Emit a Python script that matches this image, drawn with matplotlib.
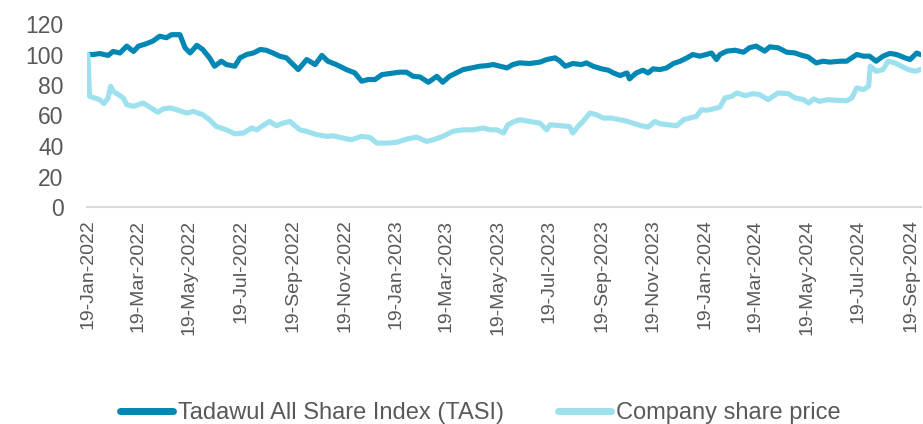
"""TASI vs company share price, rebased to 100 on 19-Jan-2022."""

import matplotlib

matplotlib.use("Agg")
import matplotlib.dates as mdates
import matplotlib.pyplot as plt
import pandas as pd

START = pd.Timestamp("2022-01-19")

# calendar days after 19-Jan-2022, and rebased value
tasi_days = [
    0, 6, 14, 24, 30, 38, 46, 54, 60, 69, 77, 85, 93, 99, 109, 115, 121, 129, 136, 144,
    150, 158, 164, 174, 180, 188, 196, 204, 211, 219, 227, 235, 243, 249, 259, 269, 277, 284, 294, 306,
    316, 324, 332, 340, 348, 357, 369, 377, 385, 393, 403, 413, 420, 428, 436, 444, 454, 464, 472, 480,
    488, 496, 503, 511, 523, 535, 543, 553, 559, 565, 574, 584, 590, 598, 608, 616, 622, 630, 638, 641,
    649, 657, 663, 669, 677, 685, 693, 701, 709, 716, 724, 732, 738, 744, 748, 756, 766, 776, 783, 791,
    801, 807, 817, 827, 837, 845, 852, 862, 870, 878, 890, 898, 910, 918, 925, 933, 941, 949, 957, 967,
    973, 981, 985,
]
tasi_values = [
    100, 100, 100.6, 99.4, 102, 101, 105.5, 102, 105.5, 107, 108.8, 112, 111, 113, 113, 104.4, 101, 106, 103.3, 97.8,
    92.3, 95.6, 93.4, 92.3, 97.8, 100, 101, 103.3, 102.8, 101, 98.9, 97.8, 93.4, 90.1, 96.7, 93.4, 99.4, 95.6, 93.4, 90.1,
    87.9, 82.5, 83.6, 83.6, 86.8, 87.5, 88.4, 88.4, 85.7, 85.3, 81.8, 85.7, 81.8, 85.7, 87.9, 90.1, 91.2, 92.3, 92.7, 93.4,
    92.3, 91.2, 93.4, 94.5, 94.1, 95, 96.7, 97.8, 95.6, 92.3, 94.1, 93.4, 94.5, 92.3, 90.6, 89.7, 87.9, 86.2, 87.9, 84,
    87.9, 89.7, 87.9, 90.6, 90.1, 91.2, 94.1, 95.6, 97.8, 100, 98.9, 100, 101, 96.7, 100, 102.2, 102.8, 101.5, 104.4, 105.5,
    102.2, 105, 104.4, 101.5, 101, 99.4, 98.5, 94.5, 95.6, 95, 95.6, 95.6, 100, 98.9, 98.9, 95.6, 98.9, 100.7, 100, 97.8,
    96.7, 101, 100,
]

company_days = [
    0, 2, 8, 14, 19, 24, 27, 30, 36, 42, 46, 54, 65, 73, 83, 89, 97, 105, 117, 125,
    136, 144, 152, 164, 174, 184, 194, 200, 207, 215, 223, 231, 239, 251, 259, 271, 283, 290, 302, 312,
    324, 334, 342, 354, 365, 377, 389, 401, 409, 420, 432, 444, 456, 468, 476, 484, 492, 497, 505, 511,
    523, 535, 543, 547, 559, 570, 574, 580, 586, 594, 602, 610, 620, 630, 639, 647, 655, 663, 671, 677,
    687, 697, 705, 712, 720, 726, 732, 740, 748, 754, 762, 768, 778, 787, 795, 805, 817, 829, 837, 847,
    853, 859, 866, 876, 886, 898, 904, 910, 918, 924, 926, 933, 941, 947, 955, 963, 971, 979, 985,
]
company_values = [
    100, 72.6, 71.5, 70.4, 67.8, 71.5, 79.2, 75.9, 73.7, 71.5, 67.1, 66, 68.2, 65.6, 62.1, 64.3, 65, 63.8, 61.6, 62.7,
    60.5, 57.2, 52.8, 50.6, 48, 48.5, 51.8, 50.6, 53.3, 56.1, 53.3, 55, 56.1, 50.6, 49.6, 47.4, 46.3, 46.7, 45.2, 44.1,
    46.3, 45.6, 41.9, 41.9, 42.4, 44.5, 45.8, 43, 44.1, 46.3, 49.6, 50.6, 50.6, 51.8, 50.6, 50.6, 48.5, 53.9, 56.1, 57.2,
    56.1, 55, 50.6, 53.9, 53.3, 52.8, 48.5, 52.8, 56.1, 61.6, 60.5, 58.3, 58.3, 57.2, 56.1, 54.6, 53.3, 52.4, 56.1, 54.6,
    53.9, 53.3, 57.2, 58.3, 59.4, 63.8, 63.4, 64.3, 65.5, 71.5, 72.6, 74.8, 73, 74.3, 73.7, 70.4, 74.8, 74.3, 71.5, 70.4,
    68.2, 70.8, 69.3, 70.4, 70, 69.7, 71.5, 78, 77, 79.2, 92.3, 89, 90.1, 95.6, 94.5, 92.3, 90.1, 89, 90.1,
]

series_labels = ["Tadawul All Share Index (TASI)", "Company share price"]
y_ticks = [0, 20, 40, 60, 80, 100, 120]

TASI_COLOR = "#0087B3"
COMPANY_COLOR = "#9DE0EE"
TEXT_COLOR = "#595959"

plt.rcParams["font.family"] = ["Liberation Sans", "DejaVu Sans"]


def to_dates(days):
    return START + pd.to_timedelta(days, unit="D")


def main():
    fig = plt.figure(figsize=(9.23, 4.24), dpi=100)
    ax = fig.add_axes([87 / 923, 1 - 207 / 424, 834 / 923, 183 / 424])

    tasi_line, = ax.plot(to_dates(tasi_days), tasi_values, color=TASI_COLOR, lw=3.7,
                         solid_joinstyle="round", solid_capstyle="round", zorder=2)
    company_line, = ax.plot(to_dates(company_days), company_values, color=COMPANY_COLOR, lw=3.7,
                            solid_joinstyle="round", solid_capstyle="round", zorder=3)

    ticks = [START + pd.DateOffset(months=2 * i) for i in range(17)]
    ax.set_xticks(ticks)
    ax.xaxis.set_major_formatter(mdates.DateFormatter("%d-%b-%Y"))
    ax.set_xlim(START - pd.Timedelta(days=1), START + pd.Timedelta(days=986))
    ax.set_ylim(0, 120)
    ax.set_yticks(y_ticks)

    ax.tick_params(axis="x", length=0, pad=9, labelrotation=90, labelsize=14, colors=TEXT_COLOR)
    ax.tick_params(axis="y", length=0, pad=17, labelsize=16.5, colors=TEXT_COLOR)
    for side in ("top", "right", "left"):
        ax.spines[side].set_visible(False)
    ax.spines["bottom"].set_color("#D9D9D9")
    ax.spines["bottom"].set_linewidth(1.5)

    fig.legend([tasi_line, company_line], series_labels, loc="center", bbox_to_anchor=(480 / 923, 1 - 413 / 424),
               ncol=2, frameon=False, fontsize=17, labelcolor=TEXT_COLOR, handlelength=2.25,
               handletextpad=0.2, columnspacing=2.3, borderpad=0)
    for handle in fig.legends[0].get_lines():
        handle.set_linewidth(5)

    fig.savefig("out.png", dpi=100)
    plt.close(fig)


if __name__ == "__main__":
    main()
